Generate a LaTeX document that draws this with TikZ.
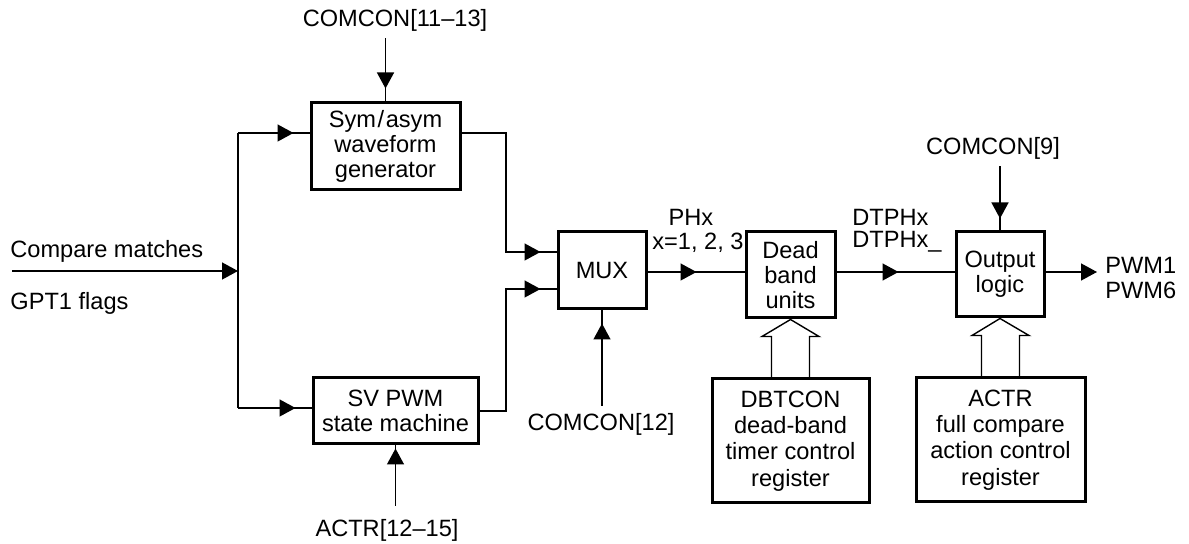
\documentclass[tikz,border=0pt]{standalone}
\usepackage{fontspec}
\setmainfont{Liberation Sans}
\usetikzlibrary{arrows.meta,decorations.markings,calc}
\tikzset{
  blk/.style={draw,line width=1.5pt,align=center,inner sep=0pt,font=\fontsize{11.8}{12.6}\selectfont},
  lbl/.style={inner sep=0pt,align=center,font=\fontsize{11.8}{13}\selectfont},
  wire/.style={line width=0.7pt},
  tipat/.style={postaction={decorate,decoration={markings,mark=at position #1 with {\arrow{Triangle[length=8pt,width=8.5pt]}}}}},
  endtip/.style={-{Triangle[length=8pt,width=8.5pt]}}
}
\begin{document}
\begin{tikzpicture}[x=0.5pt,y=-0.5pt]
\useasboundingbox (0,0) rectangle (1189,544);
% blocks
\node[blk,minimum width=74.5pt,minimum height=43.5pt] (sym) at (385.5,146.5) {Sym\kern0.8pt/\kern0.8pt asym\\waveform\\generator};
\node[blk,minimum width=82.5pt,minimum height=33pt] (sv) at (395.5,411) {SV PWM\\state machine};
\node[blk,minimum width=44pt,minimum height=38.5pt] (mux) at (602,270.5) {MUX};
\node[blk,minimum width=44.5pt,minimum height=43pt] (dead) at (790.5,275) {Dead\\band\\units};
\node[blk,minimum width=44pt,minimum height=42.5pt] (out) at (1000,274.5) {Output\\logic};
\node[blk,minimum width=78.5pt,minimum height=62pt,font=\fontsize{11.8}{13.2}\selectfont] (dbt) at (790.5,441) {DBTCON\\dead-band\\timer control\\register};
\node[blk,minimum width=84.5pt,minimum height=62pt,font=\fontsize{11.8}{13.2}\selectfont] (actr) at (1000.5,440) {ACTR\\full compare\\action control\\register};
% labels
\node[lbl] (c1113) at (395,20) {COMCON[11–13]};
\node[lbl] (a1215) at (387,530) {ACTR[12–15]};
\node[lbl] (c12) at (601,424) {COMCON[12]};
\node[lbl] (c9) at (993,148) {COMCON[9]};
\node[lbl,anchor=west] (cm) at (10,251) {Compare matches};
\node[lbl,anchor=west] (gpt) at (10,303) {GPT1 flags};
\node[lbl] (phx) at (691,217) {PHx};
\node[lbl] (xeq) at (698,243) {x=1, 2, 3};
\node[lbl,anchor=west,align=left,font=\fontsize{11.8}{11}\selectfont] (dtphx) at (852,231) {DTPHx\\DTPHx\_};
\node[lbl,anchor=west,align=left,font=\fontsize{11.8}{12.5}\selectfont] (pwm) at (1105,278) {PWM1\\PWM6};
% coordinates
\coordinate (inL) at (12,271);
\coordinate (busT) at (238,133);
\coordinate (busM) at (238,271);
\coordinate (busB) at (238,408);
\coordinate (j1) at (506,133);
\coordinate (j2) at (506,411);
\coordinate (m1) at (558,252);
\coordinate (m2) at (558,289);
\coordinate (sout) at (sv.east |- 0,411);
\coordinate (pwmend) at (1097,272);
% wires
\draw[wire,endtip] (inL) -- (busM);
\draw[wire] (busT) -- (busB);
\draw[wire,tipat=-8pt] (busT) -- (busT -| sym.west);
\draw[wire,tipat=-8pt] (busB) -- (busB -| sv.west);
\draw[wire,tipat=-8pt] (j1 -| sym.east) -- (j1) |- (m1 -| mux.west);
\draw[wire,tipat=-8pt] (sout) -- (j2) |- (m2 -| mux.west);
\draw[wire,tipat=-6.5pt] (c1113.south -| sym.north) ++(0,7) -- (sym.north);
\draw[wire,tipat=-6pt] (c9.south -| out.north) ++(0,7) -- (out.north);
\draw[wire,tipat=-6.5pt] (c12.north -| mux.south) ++(0,-7) -- (mux.south);
\draw[wire,tipat=-1.5pt] (a1215.north -| sv.south) ++(0,-13) -- (sv.south);
\draw[wire,tipat=-24pt] (mux.east |- 0,272) -- (dead.west |- 0,272);
\draw[wire,tipat=-28pt] (dead.east |- 0,272) -- (out.west |- 0,272);
\draw[wire,endtip] (out.east |- 0,272) -- (pwmend);
% hollow bus arrows
\draw[wire] ($(dbt.north)+(-19,0)$) -- ++(0,-41) -- ++(-9.5,0) -- (dead.south) -- ($(dbt.north)+(28.5,-41)$) -- ++(-9.5,0) -- ($(dbt.north)+(19,0)$);
\draw[wire] ($(actr.north)+(-19,0)$) -- ++(0,-41) -- ++(-9.5,0) -- (out.south) -- ($(actr.north)+(28.5,-41)$) -- ++(-9.5,0) -- ($(actr.north)+(19,0)$);
\end{tikzpicture}
\end{document}
